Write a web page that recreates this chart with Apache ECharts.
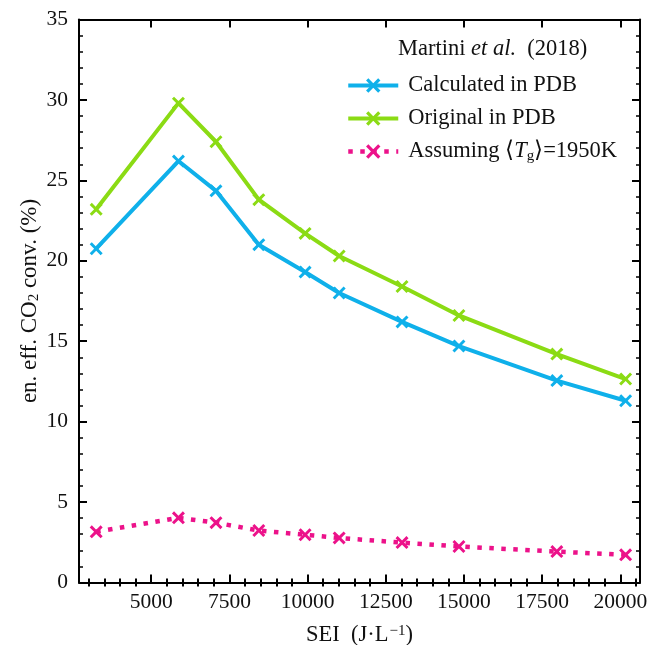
<!DOCTYPE html>
<html>
<head>
<meta charset="utf-8">
<script src="https://cdn.jsdelivr.net/npm/echarts@6/dist/echarts.min.js"></script>
<style>html,body{margin:0;padding:0;background:#fff}#c{width:651px;height:645px}</style>
</head>
<body>
<div id="c"></div>
<script>
const sei = [3240, 5870, 7070, 8440, 9920, 11010, 13020, 14840, 17970, 20170];
const calculated = [20.75, 26.2, 24.35, 21.0, 19.3, 18.0, 16.2, 14.7, 12.55, 11.3];
const original = [23.2, 29.8, 27.4, 23.8, 21.7, 20.3, 18.4, 16.6, 14.2, 12.65];
const assuming = [3.15, 4.02, 3.72, 3.23, 2.97, 2.77, 2.48, 2.24, 1.92, 1.72];
const xMajor = [5000, 7500, 10000, 12500, 15000, 17500, 20000];
const xMinor = [3000,3500,4000,4500,5500,6000,6500,7000,8000,8500,9000,9500,10500,11000,11500,12000,13000,13500,14000,14500,15500,16000,16500,17000,18000,18500,19000,19500,20500];
const seriesNames = ['Calculated in PDB', 'Original in PDB', 'Assuming \u27E8Tg\u27E9=1950K'];

const FONT = 'Liberation Serif';
const XMIN = 2690, XMAX = 20630;
const crossPath = 'path://M0,1.6 L1.6,0 L5,3.4 L8.4,0 L10,1.6 L6.6,5 L10,8.4 L8.4,10 L5,6.6 L1.6,10 L0,8.4 L3.4,5 Z';
const colors = ['#0fb0ea', '#8bdb14', '#ec128a'];
const lineW = [4, 4, 4.5];

const chart = echarts.init(document.getElementById('c'), null, {renderer: 'canvas'});

function xAx(pos, vals, len, labels, extra) {
  return Object.assign({
    type: 'value', position: pos, min: XMIN, max: XMAX,
    axisLine: {show: true, onZero: false, lineStyle: {color: '#000', width: 2}},
    axisTick: {show: true, inside: true, length: len, customValues: vals, lineStyle: {color: '#000', width: 2}},
    axisLabel: labels ? {show: true, customValues: vals, margin: 9, fontFamily: FONT, fontSize: 21.5, color: '#111',
      formatter: v => String(v)} : {show: false},
    splitLine: {show: false}
  }, extra || {});
}
function yAx(pos, labels, extra) {
  return Object.assign({
    type: 'value', position: pos, min: 0, max: 35, interval: 5,
    axisLine: {show: true, onZero: false, lineStyle: {color: '#000', width: 2}},
    axisTick: {show: true, inside: true, length: 8, lineStyle: {color: '#000', width: 2}},
    minorTick: {show: true, splitNumber: 5, length: 4, lineStyle: {color: '#000', width: 1.5}},
    axisLabel: labels ? {show: true, margin: 11, fontFamily: FONT, fontSize: 21.5, color: '#111'} : {show: false},
    splitLine: {show: false}, minorSplitLine: {show: false}
  }, extra || {});
}

const mkData = arr => sei.map((x, i) => [x, arr[i]]);
const vals = [calculated, original, assuming];

const option = {
  animation: false,
  backgroundColor: '#fff',
  grid: {left: 79, right: 11, top: 19.5, bottom: 62.5, containLabel: false, outerBoundsMode: 'none'},
  xAxis: [
    xAx('bottom', xMajor, 8, true, {
      name: 'SEI  (J\u00B7L{sup|\u22121})', nameLocation: 'middle', nameGap: 41,
      nameTextStyle: {fontFamily: FONT, fontSize: 22.5, color: '#111',
        rich: {sup: {fontFamily: FONT, fontSize: 15, color: '#111', verticalAlign: 'top', padding: [0, 0, 9, 1]}}}
    }),
    xAx('bottom', xMinor, 4, false, {axisLine: {show: false}}),
    xAx('top', xMajor, 8, false),
    xAx('top', xMinor, 4, false, {axisLine: {show: false}})
  ],
  yAxis: [
    yAx('left', true, {
      name: 'en. eff. CO{sub|2} conv. (%)', nameLocation: 'middle', nameGap: 37, nameRotate: 90,
      nameMoveOverlap: false,
      nameTextStyle: {fontFamily: FONT, fontSize: 23, color: '#111',
        rich: {sub: {fontFamily: FONT, fontSize: 15, color: '#111', padding: [9, 0, 0, 0]}}}
    }),
    yAx('right', false)
  ],
  legend: {
    orient: 'vertical', left: 341, top: 69, itemWidth: 50, itemHeight: 18, itemGap: 10,
    data: seriesNames.map((n, k) => ({name: n, lineStyle: {width: lineW[k]}})),
    formatter: function (n) {
      if (n.indexOf('Assuming') === 0) return '{n|Assuming \u27E8}{i|T}{s|g}{n|\u27E9=1950K}';
      return '{n|' + n + '}';
    },
    textStyle: {
      fontFamily: FONT, fontSize: 22.5, color: '#111', padding: [0, 0, 0, 5],
      rich: {
        n: {fontFamily: FONT, fontSize: 22.5, color: '#111', lineHeight: 24},
        i: {fontFamily: FONT, fontSize: 22.5, fontStyle: 'italic', color: '#111', lineHeight: 24},
        s: {fontFamily: FONT, fontSize: 15, color: '#111', verticalAlign: 'bottom', lineHeight: 14, padding: [0, 0, 0, 0]}
      }
    }
  },
  graphic: [{
    type: 'text', left: 398, top: 38,
    style: {
      text: '{n|Martini }{i|et al.}{n|  (2018)}',
      rich: {
        n: {fontFamily: FONT, fontSize: 22.5, fill: '#111'},
        i: {fontFamily: FONT, fontSize: 22.5, fontStyle: 'italic', fill: '#111'}
      }
    }
  }],
  series: seriesNames.map((name, k) => ({
    name: name, type: 'line', xAxisIndex: 0, yAxisIndex: 0,
    data: mkData(vals[k]),
    symbol: crossPath, symbolSize: 13,
    itemStyle: {color: colors[k]},
    lineStyle: {color: colors[k], width: lineW[k], type: k === 2 ? [4.5, 7.5] : 'solid', cap: 'butt'},
    z: 3 - k
  }))
};
chart.setOption(option);
</script>
</body>
</html>
